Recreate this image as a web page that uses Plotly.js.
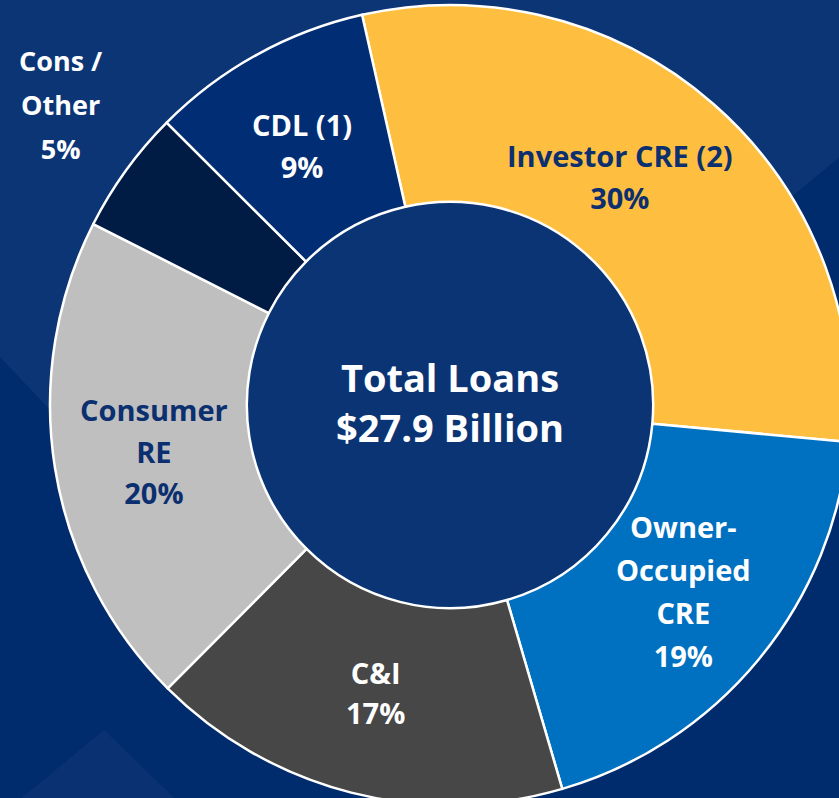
<!DOCTYPE html>
<html><head><meta charset="utf-8">
<script src="https://cdn.plot.ly/plotly-3.0.1.min.js"></script>
<style>
html,body{margin:0;padding:0;overflow:hidden;background:#002B6C;width:839px;height:798px}
#chart{position:absolute;left:0;top:0;width:900px;height:810px}
</style>
</head><body><div id="chart"></div>
<script>
// ---- data ----
const categories = ['Investor CRE (2)', 'Owner-<br>Occupied<br>CRE', 'C&I', 'Consumer<br>RE', 'Cons /<br>Other', 'CDL (1)'];
const shares = [30, 19, 17, 20, 5, 9];
const sliceColors = ['#FEBF41', '#0070C0', '#474747', '#BFBFBF', '#001B44', '#002D73'];
const labelColors = ['#0B2F6F', '#FFFFFF', '#FFFFFF', '#0B2F6F', '#FFFFFF', '#FFFFFF'];
const centerTitle = 'Total Loans<br>$27.9 Billion';

// ---- geometry / style ----
const ROTATION = -12.7;
const OUTER_R = 400, CX = 450, CY = 405;          // pixels inside the 900x810 div
const labelRadius = [0.713, 0.747, 0.743, 0.748, 1.228, 0.747];
const labelAngleShift = [-4.7, -1.0, 0.3, 0.3, 1.8, -0.9];
const glyphSize = [29, 29, 29, 29, 27, 29];
const lineSize = [32.5, 33, 31, 32, 34, 32.5];

const px = v => v / 900;
const py = v => (805 - v) / 800;

const wrapLines = (s, size) => s.split('<br>')
  .map(l => '<span style="font-size:' + size + 'px">' + l + '</span>').join('<br>');

const total = shares.reduce((a, b) => a + b, 0);
let cum = 0;
const annotations = shares.map((s, i) => {
  const mid = (ROTATION + 360 * (cum + s / 2) / total + labelAngleShift[i]) * Math.PI / 180;
  cum += s;
  const r = labelRadius[i] * OUTER_R;
  return {
    xref: 'paper', yref: 'paper', showarrow: false,
    x: px(CX + r * Math.sin(mid)), y: py(CY - r * Math.cos(mid)),
    xanchor: 'center', yanchor: 'middle', align: 'center',
    text: wrapLines(categories[i] + '<br>' + s + '%', glyphSize[i]),
    font: {family: 'Open Sans', size: lineSize[i], color: labelColors[i], weight: 700}
  };
});

const trace = {
  type: 'pie',
  labels: categories,
  values: shares,
  textinfo: 'none',
  hoverinfo: 'none',
  sort: false,
  direction: 'clockwise',
  rotation: ROTATION,
  hole: 0.508,
  marker: {colors: sliceColors, line: {color: '#FFFFFF', width: 2.5}},
  title: {text: centerTitle, position: 'middle center',
          font: {family: 'Open Sans', size: 38, color: '#FFFFFF', weight: 700}}
};

const layout = {
  width: 900, height: 810,
  margin: {l: 0, r: 0, t: 5, b: 5},
  paper_bgcolor: '#002B6C',
  showlegend: false,
  annotations: annotations,
  shapes: [
    {type: 'path', xref: 'paper', yref: 'paper', layer: 'below', line: {width: 0}, fillcolor: '#0B3575',
     path: `M ${px(0)} ${py(-10)} L ${px(900)} ${py(-10)} L ${px(900)} ${py(107)} L ${px(650)} ${py(314)} L ${px(250)} ${py(622)} L ${px(0)} ${py(357)} Z`},
    {type: 'path', xref: 'paper', yref: 'paper', layer: 'below', line: {width: 0}, fillcolor: '#0A3272',
     path: `M ${px(1)} ${py(815)} L ${px(104)} ${py(730)} L ${px(192)} ${py(815)} Z`},
    {type: 'circle', xref: 'paper', yref: 'paper', layer: 'below', line: {width: 0}, fillcolor: '#0B3474',
     x0: px(247), x1: px(653), y0: py(608), y1: py(202)}
  ]
};

Plotly.newPlot('chart', [trace], layout, {displayModeBar: false, staticPlot: true});
</script>
</body></html>
